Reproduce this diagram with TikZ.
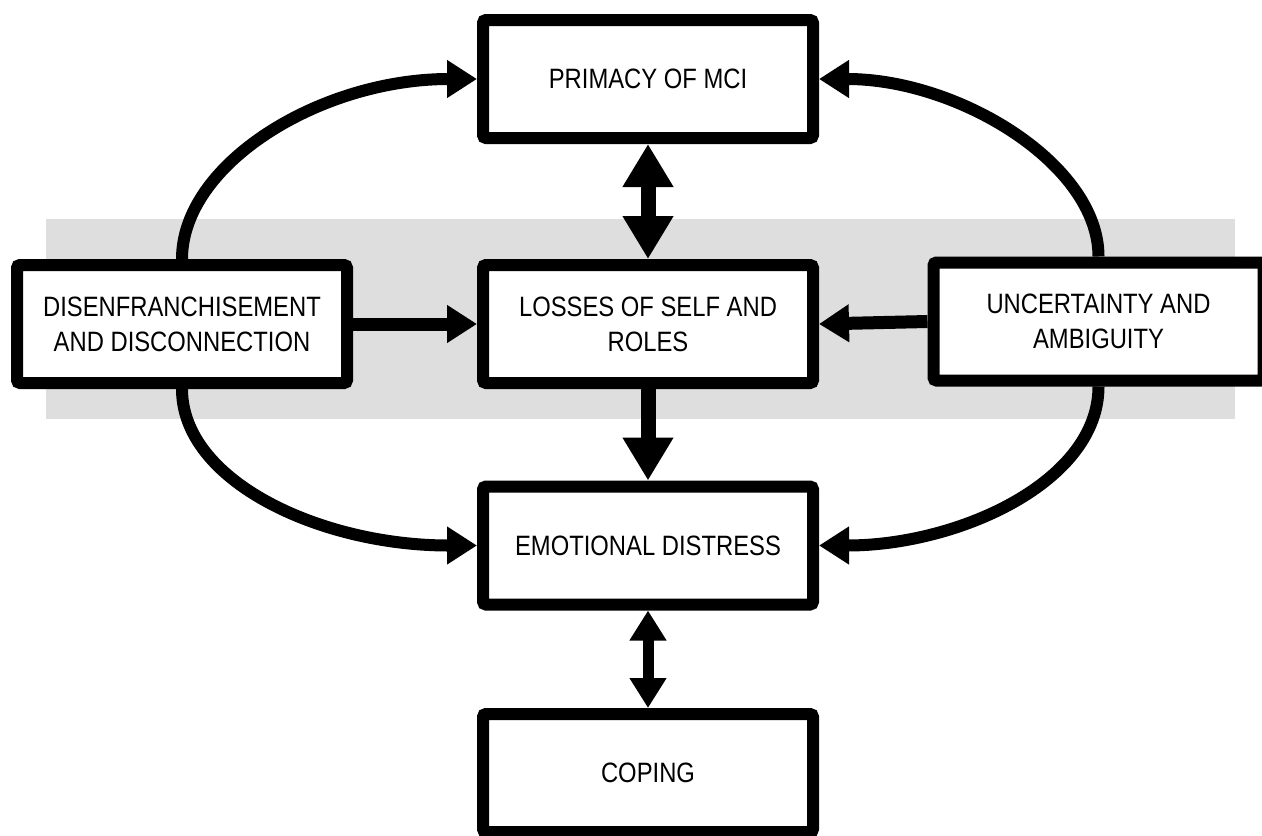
\documentclass[tikz,border=0pt]{standalone}
\usepackage{fontspec}
\setmainfont{Liberation Sans}[FakeStretch=0.85]
\usetikzlibrary{arrows.meta}
\begin{document}
\begin{tikzpicture}[x=0.5pt,y=-0.5pt,
  box/.style={draw=black,line width=6pt,fill=white,rounded corners=1.5pt,
    minimum width=165pt,minimum height=59pt,align=center,inner sep=0pt,
    font=\fontsize{14pt}{17.5pt}\selectfont},
  curvearrow/.style={line width=6pt,-{Triangle[length=15pt,width=18pt]}},
  sidearrow/.style={line width=6.5pt,-{Triangle[length=15pt,width=18pt]}},
  bigarrow/.style={line width=7.5pt},
  bigtip/.tip={Triangle[length=21.5pt,width=24pt]},
  smalltip/.tip={Triangle[length=15pt,width=17.5pt]}
]
\path[use as bounding box,clip] (0,0) rectangle (1262,835);
\fill[fill={rgb,255:red,222;green,222;blue,222}] (46,219) rectangle (1235,419);

\node[box] (prim) at (648,79) {PRIMACY OF MCI};
\node[box] (los) at (648,324) {LOSSES OF SELF AND\\ROLES};
\node[box] (emo) at (648,545.5) {EMOTIONAL DISTRESS};
\node[box] (cop) at (648,773) {COPING};
\node[box] (dis) at (182,324) {DISENFRANCHISEMENT\\AND DISCONNECTION};
\node[box] (unc) at (1098.5,321.5) {UNCERTAINTY AND\\AMBIGUITY};

\draw[curvearrow] (dis.north) .. controls +(0,-95) and +(-157,0) .. (prim.west);
\draw[curvearrow] (unc.north) .. controls +(0,-92) and +(140,0) .. (prim.east);
\draw[curvearrow] (dis.south) .. controls +(0,92) and +(-157,0) .. (emo.west);
\draw[curvearrow] (unc.south) .. controls +(0,95) and +(140,0) .. (emo.east);

\draw[sidearrow] (dis.east) -- (los.west);
\draw[sidearrow] (unc.west) -- (los.east);

\draw[bigarrow,bigtip-bigtip] (prim.south) -- (los.north);
\draw[bigarrow,-bigtip] (los.south) -- (emo.north);
\draw[line width=5.5pt,smalltip-smalltip] (emo.south) -- (cop.north);
\end{tikzpicture}
\end{document}
